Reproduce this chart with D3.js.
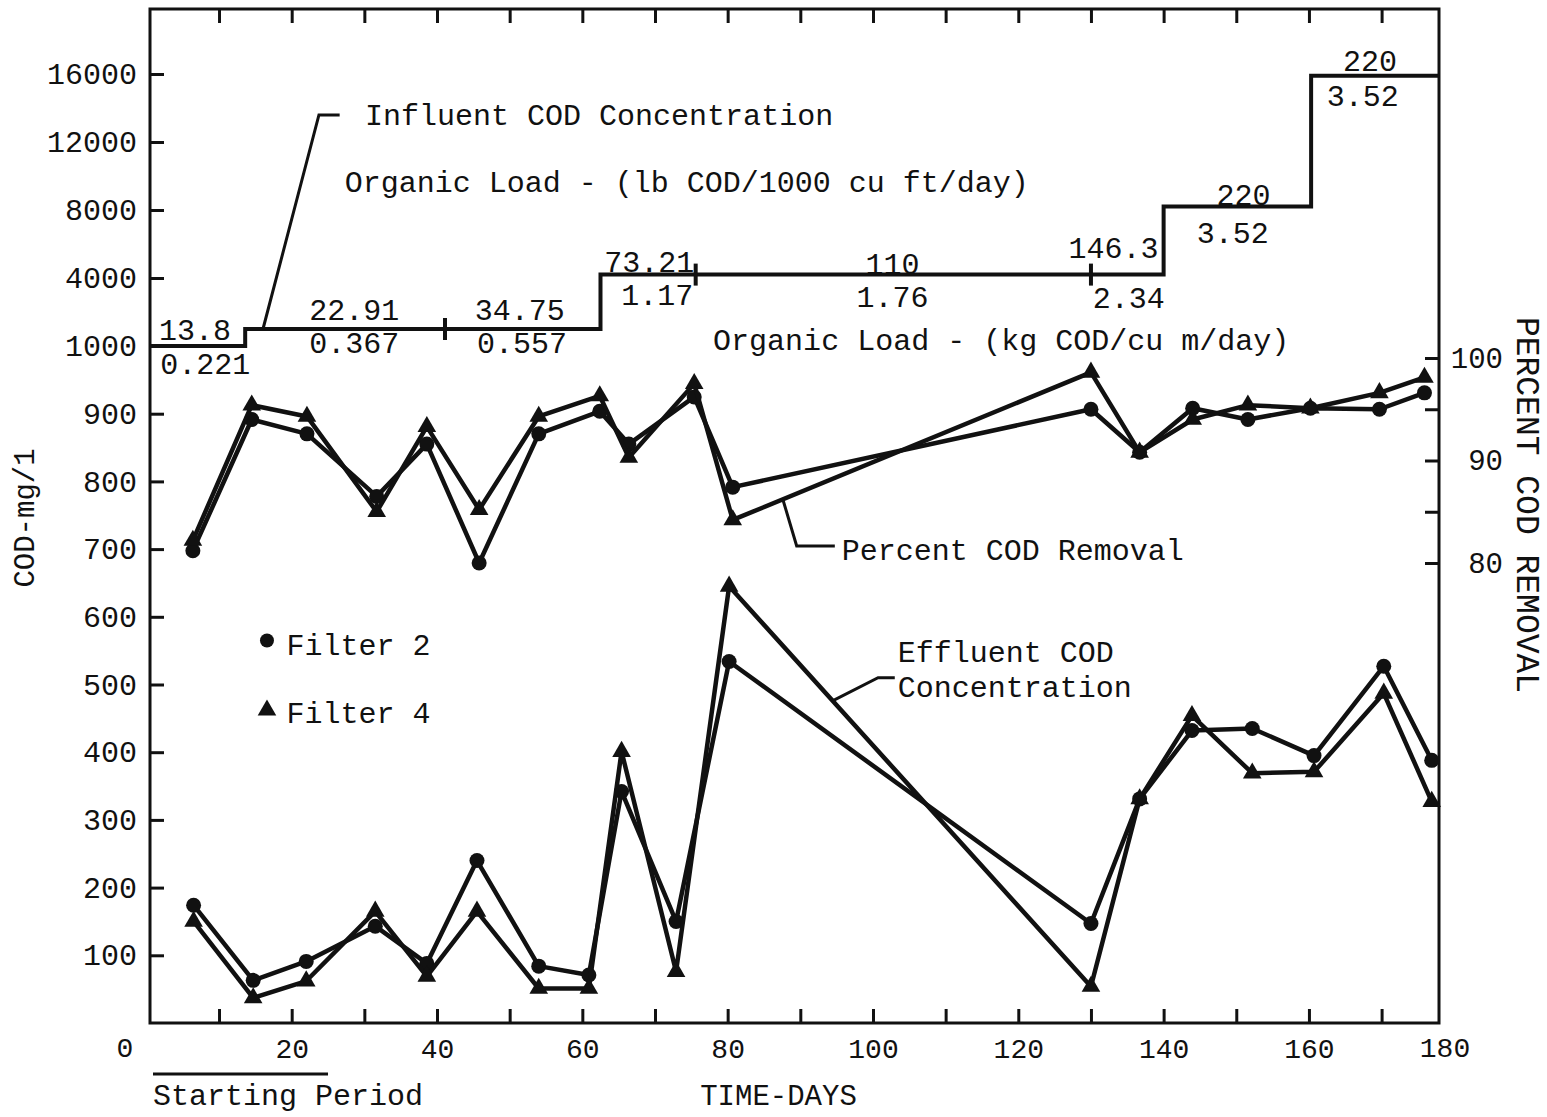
<html>

<head>
    <script src="https://d3js.org/d3.v7.min.js"></script>
    <style>
        body { margin: 0; background: #fff; }
        text { font-family: "Liberation Mono", "DejaVu Sans Mono", monospace; fill: #111; }
    </style>
</head>

<body>
    <svg id="chart" width="1547" height="1117"></svg>
    <script>
        // effluent COD (mg/l), left axis
        const effDays = [6.5, 14.7, 22.0, 31.5, 38.6, 45.5, 54.0, 60.9, 65.4, 72.9, 80.2, 130.0, 136.7, 143.9, 152.2, 160.7, 170.3, 176.9];
        const effFilter2 = [174, 63, 91, 143, 88, 240, 84, 71, 342, 150, 534, 147, 331, 432, 435, 395, 527, 388];
        const effFilter4 = [150, 37, 62, 165, 69, 165, 51, 51, 401, 76, 645, 54, 331, 454, 369, 371, 487, 327];

        // percent COD removal, right axis
        const pctDays = [6.4, 14.5, 22.1, 31.7, 38.6, 45.8, 54.0, 62.4, 66.4, 75.4, 80.7, 130.0, 136.7, 144.0, 151.6, 160.2, 169.7, 175.9];
        const pctFilter2 = [81.2, 94.0, 92.6, 86.5, 91.6, 80.0, 92.6, 94.8, 91.6, 96.2, 87.4, 95.0, 90.8, 95.1, 94.0, 95.1, 95.0, 96.6];
        const pctFilter4 = [82.2, 95.4, 94.3, 85.0, 93.3, 85.2, 94.3, 96.3, 90.3, 97.5, 84.2, 98.6, 90.8, 94.0, 95.4, 95.1, 96.6, 98.1];

        // influent COD concentration (step), left axis upper part
        const stepDays = [0, 13.6, 62.5, 140, 160.3, 180];
        const influentCOD = [1000, 1750, 4200, 8200, 15900, 15900];
        const loadChangeDays = [41.1, 75.6, 130];

        // organic loads written on the step line
        const loadLb = ["13.8", "22.91", "34.75", "73.21", "110", "146.3", "220", "220"];
        const loadKg = ["0.221", "0.367", "0.557", "1.17", "1.76", "2.34", "3.52", "3.52"];

        const leftTicks = [100, 200, 300, 400, 500, 600, 700, 800, 900, 1000, 4000, 8000, 12000, 16000];
        const rightTicks = [80, 85, 90, 95, 100];
        const dayTicks = [10, 20, 30, 40, 50, 60, 70, 80, 90, 100, 110, 120, 130, 140, 150, 160, 170];

        const svg = d3.select("#chart");
        const plotLeft = 150, plotRight = 1439, plotTop = 9, plotBottom = 1023;
        const ink = "#111";

        const x = d3.scaleLinear().domain([0.5, 177.9]).range([plotLeft, plotRight]).clamp(true);
        // broken left scale: 0-1000 linear, then 1000-16000 compressed
        const yLeft = d3.scaleLinear()
            .domain([0, 1000, 4000, 8000, 12000, 16000])
            .range([plotBottom, 346, 278, 210, 142, 74]);
        const yRight = d3.scaleLinear().domain([80, 100]).range([563, 358]);

        // frame
        svg.append("rect")
            .attr("x", plotLeft).attr("y", plotTop)
            .attr("width", plotRight - plotLeft).attr("height", plotBottom - plotTop)
            .attr("fill", "none").attr("stroke", ink).attr("stroke-width", 3);

        const styleAxis = (g, size) => {
            g.select(".domain").remove();
            g.selectAll(".tick line").attr("stroke", ink).attr("stroke-width", 3);
            g.selectAll(".tick text").attr("font-size", size).attr("fill", ink)
                .attr("font-family", "Liberation Mono, DejaVu Sans Mono, monospace");
        };

        svg.append("g").attr("transform", `translate(${plotLeft},0)`)
            .call(d3.axisLeft(yLeft).tickValues(leftTicks).tickFormat(d => String(d))
                .tickSizeInner(-14).tickSizeOuter(0).tickPadding(13))
            .call(g => styleAxis(g, 30));

        svg.append("g").attr("transform", `translate(${plotRight},0)`)
            .call(d3.axisRight(yRight).tickValues(rightTicks).tickSizeInner(-14).tickSizeOuter(0)
                .tickFormat(d => d % 10 === 0 ? d : ""))
            .call(g => styleAxis(g, 29))
            .call(g => g.selectAll(".tick text").attr("text-anchor", "end").attr("x", 64));

        svg.append("g").attr("transform", `translate(0,${plotBottom})`)
            .call(d3.axisBottom(x).tickValues(dayTicks).tickSizeInner(-14).tickSizeOuter(0).tickPadding(15)
                .tickFormat(d => d % 20 === 0 ? d : ""))
            .call(g => styleAxis(g, 28));

        svg.append("g").attr("transform", `translate(0,${plotTop})`)
            .call(d3.axisTop(x).tickValues(dayTicks).tickSizeInner(-14).tickSizeOuter(0).tickFormat(""))
            .call(g => styleAxis(g, 28));

        svg.append("text").attr("x", plotLeft - 25).attr("y", 1057)
            .attr("text-anchor", "middle").attr("font-size", 28).text("0");
        svg.append("text").attr("x", plotRight + 6).attr("y", 1057)
            .attr("text-anchor", "middle").attr("font-size", 28).text("180");

        // axis titles
        svg.append("text").attr("transform", "translate(34,518) rotate(-90)")
            .attr("text-anchor", "middle").attr("font-size", 29).text("COD-mg/1");
        svg.append("text").attr("transform", "translate(1517,505) rotate(90)")
            .attr("text-anchor", "middle").attr("font-size", 33).text("PERCENT COD REMOVAL");
        svg.append("text").attr("x", x(87)).attr("y", plotBottom + 82)
            .attr("text-anchor", "middle").attr("font-size", 29).text("TIME-DAYS");
        svg.append("text").attr("x", 153).attr("y", plotBottom + 82)
            .attr("font-size", 30).text("Starting Period");
        svg.append("line")
            .attr("x1", 153).attr("x2", x(25))
            .attr("y1", plotBottom + 51).attr("y2", plotBottom + 51)
            .attr("stroke", ink).attr("stroke-width", 3);

        // influent step line
        const stepData = stepDays.map((d, i) => ({ day: d, v: influentCOD[i] }));
        svg.append("path")
            .datum(stepData)
            .attr("fill", "none").attr("stroke", ink).attr("stroke-width", 4)
            .attr("d", d3.line().curve(d3.curveStepAfter).x(d => x(d.day)).y(d => yLeft(d.v)));

        const stepValue = day => influentCOD[d3.bisectRight(stepDays, day) - 1];

        svg.selectAll("line.loadmark").data(loadChangeDays)
            .join("line")
            .attr("class", "loadmark")
            .attr("x1", d => x(d)).attr("x2", d => x(d))
            .attr("y1", d => yLeft(stepValue(d)) - 11).attr("y2", d => yLeft(stepValue(d)) + 11)
            .attr("stroke", ink).attr("stroke-width", 4);

        // label layout on the step line (centre day, baseline offset)
        const lbDay = [6.7, 28.6, 51.4, 69.2, 102.7, 133.1, 151, 168.4];
        const lbDy = [-6, -9, -9, -3, -1, -17, -2, -5];
        const kgDay = [8.1, 28.6, 51.7, 70.3, 102.7, 135.2, 149.5, 167.4];
        const kgDy = [28, 24, 24, 30, 32, 33, 36, 30];

        svg.selectAll("text.lb").data(loadLb)
            .join("text")
            .attr("class", "lb")
            .attr("x", (d, i) => x(lbDay[i]))
            .attr("y", (d, i) => yLeft(stepValue(lbDay[i])) + lbDy[i])
            .attr("text-anchor", "middle").attr("font-size", 30)
            .text(d => d);

        svg.selectAll("text.kg").data(loadKg)
            .join("text")
            .attr("class", "kg")
            .attr("x", (d, i) => x(kgDay[i]))
            .attr("y", (d, i) => yLeft(stepValue(kgDay[i])) + kgDy[i])
            .attr("text-anchor", "middle").attr("font-size", 30)
            .text(d => d);

        // series
        const series = [
            { days: pctDays, vals: pctFilter2, y: yRight, mark: "circle" },
            { days: pctDays, vals: pctFilter4, y: yRight, mark: "triangle" },
            { days: effDays, vals: effFilter2, y: yLeft, mark: "circle" },
            { days: effDays, vals: effFilter4, y: yLeft, mark: "triangle" }
        ];
        const triangle = d3.symbol().type(d3.symbolTriangle).size(150);

        series.forEach(s => {
            const pts = s.days.map((d, i) => ({ day: d, v: s.vals[i] }));
            svg.append("path")
                .datum(pts)
                .attr("fill", "none").attr("stroke", ink).attr("stroke-width", 4.5)
                .attr("stroke-linejoin", "round")
                .attr("d", d3.line().x(d => x(d.day)).y(d => s.y(d.v)));

            if (s.mark === "circle") {
                svg.append("g").selectAll("circle").data(pts)
                    .join("circle")
                    .attr("cx", d => x(d.day)).attr("cy", d => s.y(d.v))
                    .attr("r", 7.5).attr("fill", ink);
            } else {
                svg.append("g").selectAll("path").data(pts)
                    .join("path")
                    .attr("d", triangle)
                    .attr("transform", d => `translate(${x(d.day)},${s.y(d.v)})`)
                    .attr("fill", ink);
            }
        });

        // annotations
        const leader = d3.line().x(d => x(d[0])).y(d => d[2](d[1]));
        const ann = (pts) => svg.append("path")
            .attr("d", leader(pts))
            .attr("fill", "none").attr("stroke", ink).attr("stroke-width", 3);

        ann([[16.05, 1750, yLeft], [23.75, 13590, yLeft], [26.6, 13590, yLeft]]);
        svg.append("text").attr("x", x(30.1)).attr("y", yLeft(13000))
            .attr("font-size", 30).text("Influent COD Concentration");
        svg.append("text").attr("x", x(27.3)).attr("y", yLeft(9060))
            .attr("font-size", 30).text("Organic Load - (lb COD/1000 cu ft/day)");
        svg.append("text").attr("x", x(78)).attr("y", yLeft(994))
            .attr("font-size", 30).text("Organic Load - (kg COD/cu m/day)");

        ann([[87.6, 86.2, yRight], [89.5, 81.66, yRight], [94.75, 81.66, yRight]]);
        svg.append("text").attr("x", x(95.7)).attr("y", yRight(80.3))
            .attr("font-size", 30).text("Percent COD Removal");

        ann([[94.3, 475, yLeft], [100.7, 510, yLeft], [103, 510, yLeft]]);
        svg.append("text").attr("x", x(103.4)).attr("y", yLeft(533))
            .attr("font-size", 30).text("Effluent COD");
        svg.append("text").attr("x", x(103.4)).attr("y", yLeft(481))
            .attr("font-size", 30).text("Concentration");

        // legend
        svg.append("circle").attr("cx", x(16.6)).attr("cy", yLeft(565))
            .attr("r", 7).attr("fill", ink);
        svg.append("text").attr("x", x(19.3)).attr("y", yLeft(543))
            .attr("font-size", 30).text("Filter 2");
        svg.append("path").attr("d", triangle)
            .attr("transform", `translate(${x(16.6)},${yLeft(462)})`).attr("fill", ink);
        svg.append("text").attr("x", x(19.3)).attr("y", yLeft(443))
            .attr("font-size", 30).text("Filter 4");
    </script>
</body>

</html>
